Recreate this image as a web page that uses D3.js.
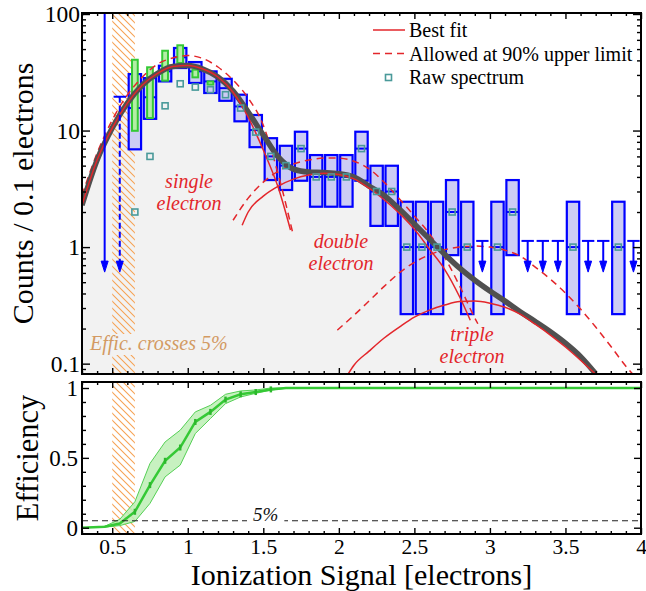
<!DOCTYPE html>
<html>
<head>
<meta charset="utf-8">
<script src="https://cdn.jsdelivr.net/npm/d3@7"></script>
<style>
  body { margin: 0; background: #fff; }
  svg { display: block; }
  svg text { font-family: 'Liberation Serif', 'DejaVu Serif', serif; }
</style>
</head>
<body>
<div id="chart"></div>
<script>
const width = 646;
const height = 591;

// efficiency-corrected spectrum, 0.1 e- bins (box = 68% interval, mid = value)
const boxX   = [0.65, 0.75, 0.85, 0.95, 1.05, 1.15, 1.25, 1.35, 1.45, 1.55, 1.65, 1.75, 1.85, 1.95, 2.05, 2.15, 2.25, 2.35, 2.45, 2.55, 2.65, 2.75, 2.85, 3.05, 3.15, 3.55, 3.85];
const boxMid = [15.6, 19.3, 32.2, 42.5, 32.2, 26.4, 23.1, 16.1, 10.1, 6, 5, 7, 4, 4, 4, 7, 3, 3, 1, 1, 1, 2, 1, 1, 2, 1, 1];
const boxLo  = [6.9, 12.6, 26.4, 34.4, 25.6, 21.0, 18.0, 12.0, 7.2, 3.76, 3.09, 3.71, 2.22, 2.22, 2.22, 3.71, 1.52, 1.52, 0.266, 0.266, 0.266, 0.853, 0.266, 0.266, 0.853, 0.266, 0.266];
const boxHi  = [30.5, 28.2, 36.0, 51.1, 38.7, 32.2, 27.8, 20.3, 13.6, 8.6, 7.4, 9.77, 6.16, 6.16, 6.16, 9.77, 4.99, 4.99, 2.45, 2.45, 2.45, 3.76, 2.45, 2.45, 3.76, 2.45, 2.45];
const rawSpectrum = [2, 6, 16.3, 25.2, 23.6, 22.4, 20.3, 15.6, 9.7, 6, 5, 7, 4, 4, 4, 7, 3, 3, 1, 1, 1, 2, 1, 1, 2, 1, 1];

// alternative correction near threshold
const greenX  = [0.65, 0.75, 0.85, 0.95, 1.05, 1.15];
const greenLo = [9.95, 12.8, 26.8, 38, 28.6, 24.8];
const greenHi = [40.5, 34.9, 48.4, 53.9, 33.3, 26.4];

// upper limits
const limitX  = [0.45, 2.95, 3.25, 3.35, 3.45, 3.65, 3.75, 3.95];
const limitHi = [102, 1.13, 1.13, 1.13, 1.13, 1.13, 1.13, 1.13];
const dashLimitX  = [0.55];
const dashLimitHi = [19.5];
const arrowTo = 0.61;

// fit curves
const fitX = [0.3, 0.4, 0.5, 0.6, 0.7, 0.8, 0.9, 1.0, 1.1, 1.2, 1.3, 1.4, 1.5, 1.6, 1.7, 1.8, 1.9, 2.0, 2.1, 2.2, 2.3, 2.4, 2.5, 2.6, 2.7, 2.8, 2.9, 3.0, 3.1, 3.2, 3.3, 3.4, 3.5, 3.6, 3.7];
const fitTotal = [2.29, 5.58, 10.5, 17.2, 24.6, 30.9, 35.4, 36.1, 33.7, 28.8, 21.8, 14.4, 9.15, 5.92, 4.67, 4.40, 4.36, 4.27, 3.99, 3.34, 2.78, 2.12, 1.58, 1.17, 0.87, 0.66, 0.52, 0.42, 0.344, 0.279, 0.23, 0.188, 0.15, 0.115, 0.082];

const singleX = [0.3, 0.4, 0.5, 0.6, 0.7, 0.8, 0.9, 1.0, 1.1, 1.2, 1.3, 1.4, 1.5, 1.6, 1.68];
const singleFit = [2.29, 5.58, 10.5, 17.2, 24.6, 30.9, 35.4, 36.1, 33.7, 28.8, 21.3, 13.0, 6.8, 3.21, 1.40];
const singleDashX = [0.3, 0.4, 0.5, 0.6, 0.7, 0.8, 0.9, 1.0, 1.1, 1.2, 1.3, 1.4, 1.5, 1.6, 1.7];
const singleDash = [2.79, 6.4, 12.3, 20.2, 28.8, 37.2, 41.9, 44, 41.5, 35.1, 27.1, 19.0, 11.1, 4.15, 1.24];

const doubleX = [1.36, 1.4, 1.5, 1.6, 1.7, 1.8, 1.9, 2.0, 2.1, 2.2, 2.3, 2.4, 2.5, 2.6, 2.7, 2.8, 2.87];
const doubleFit = [1.54, 2.0, 2.74, 3.34, 3.83, 4.15, 4.3, 4.2, 3.85, 3.2, 2.55, 1.95, 1.42, 0.96, 0.645, 0.373, 0.236];
const doubleDashX = [1.3, 1.4, 1.5, 1.6, 1.7, 1.8, 1.9, 2.0, 2.1, 2.2, 2.3, 2.4, 2.5, 2.6, 2.7, 2.8, 2.9, 2.92];
const doubleDash = [1.7, 2.63, 3.61, 4.49, 5.16, 5.58, 5.8, 5.8, 5.45, 4.7, 3.6, 2.6, 1.85, 1.3, 0.82, 0.463, 0.246, 0.22];

const tripleX = [2.06, 2.1, 2.2, 2.3, 2.4, 2.5, 2.6, 2.7, 2.8, 2.9, 3.0, 3.1, 3.2, 3.3, 3.4, 3.5, 3.6, 3.7];
const tripleFit = [0.081, 0.097, 0.128, 0.166, 0.206, 0.251, 0.288, 0.318, 0.341, 0.344, 0.330, 0.305, 0.266, 0.218, 0.176, 0.139, 0.107, 0.081];
const tripleDashX = [1.99, 2.1, 2.2, 2.3, 2.4, 2.5, 2.6, 2.7, 2.8, 2.9, 3.0, 3.1, 3.2, 3.3, 3.4, 3.5, 3.6, 3.7, 3.8, 3.9, 3.95];
const tripleDash = [0.194, 0.26, 0.345, 0.46, 0.6, 0.74, 0.86, 0.95, 1.0, 1.02, 1.0, 0.94, 0.837, 0.674, 0.531, 0.403, 0.294, 0.206, 0.141, 0.095, 0.08];

// efficiency
const effX  = [0.3, 0.45, 0.55, 0.65, 0.75, 0.85, 0.95, 1.05, 1.15, 1.25, 1.35, 1.45, 1.55, 1.65, 4.0];
const eff   = [0.0, 0.007, 0.03, 0.114, 0.305, 0.479, 0.574, 0.757, 0.829, 0.917, 0.955, 0.971, 0.99, 1.0, 1.0];
const effLo = [0.0, 0.004, 0.015, 0.045, 0.174, 0.364, 0.448, 0.674, 0.781, 0.888, 0.936, 0.962, 0.985, 0.998, 1.0];
const effHi = [0.0, 0.01, 0.06, 0.186, 0.46, 0.614, 0.698, 0.829, 0.876, 0.955, 0.979, 0.986, 1.0, 1.0, 1.0];
const effMarkX = [0.65, 0.75, 0.85, 0.95, 1.05, 1.15, 1.25, 1.35, 1.45, 1.55];
const threshold = 0.05;
const band = [0.5, 0.65];

const xTickLabels = [0.5, 1, 1.5, 2, 2.5, 3, 3.5, 4];
const yTickLabels = [0.1, 1, 10, 100];
const effTickLabels = [0, 0.5, 1];

const red = '#e3262b';
const blue = '#0000ff';
const green = '#35c935';
const teal = '#4a9a9a';

const x = d3.scaleLinear().domain([0.3, 4.0]).range([82, 641]);
const y = d3.scaleLog().domain([0.0815, 102]).range([374, 13]);
const yEff = d3.scaleLinear().domain([-0.045, 1.043]).range([534, 382]);

const [xL, xR] = x.range();
const [yB, yT] = y.range();
const [eB, eT] = yEff.range();

const pairs = (xs, vs) => xs.map((d, i) => [d, vs[i]]);

const svg = d3.select('#chart')
  .append('svg')
  .attr('width', width)
  .attr('height', height)
  .attr('viewBox', [0, 0, width, height]);

svg.append('rect').attr('width', width).attr('height', height).attr('fill', '#fff');

const defs = svg.append('defs');
defs.append('clipPath').attr('id', 'clipTop')
  .append('rect').attr('x', xL).attr('y', yT).attr('width', xR - xL).attr('height', yB - yT);
defs.append('clipPath').attr('id', 'clipBot')
  .append('rect').attr('x', xL).attr('y', eT).attr('width', xR - xL).attr('height', eB - eT);
defs.append('pattern')
  .attr('id', 'hatch')
  .attr('patternUnits', 'userSpaceOnUse')
  .attr('width', 7).attr('height', 7)
  .append('path')
  .attr('d', 'M-1,-1L8,8M-1,6L1,8M6,-1L8,1')
  .attr('stroke', '#f6a355')
  .attr('stroke-width', 1.1);

// ---------- top panel ----------
const upper = svg.append('g').attr('clip-path', 'url(#clipTop)');

upper.append('path')
  .datum(pairs(fitX, fitTotal))
  .attr('fill', '#f2f2f2')
  .attr('d', d3.area().x(d => x(d[0])).y0(yB).y1(d => y(d[1])).curve(d3.curveMonotoneX));

upper.append('rect')
  .attr('x', x(band[0])).attr('width', x(band[1]) - x(band[0]))
  .attr('y', yT).attr('height', yB - yT)
  .attr('fill', 'url(#hatch)');

const effic = upper.append('text')
  .attr('x', 90).attr('y', 350)
  .attr('font-style', 'italic').attr('font-size', 20)
  .attr('fill', '#d39a62')
  .text('Effic. crosses 5%');
const eb = effic.node().getBBox();
upper.insert('rect', 'text')
  .attr('x', eb.x - 1).attr('y', eb.y + 2).attr('width', eb.width + 2).attr('height', eb.height - 2)
  .attr('fill', '#f2f2f2');

const hw = 0.041;
const boxes = pairs(boxX, boxMid).map((d, i) => ({ x: d[0], mid: d[1], lo: boxLo[i], hi: boxHi[i], raw: rawSpectrum[i] }));

upper.append('g')
  .selectAll('rect')
  .data(boxes)
  .join('rect')
  .attr('x', d => x(d.x - hw))
  .attr('width', x(hw * 2) - x(0))
  .attr('y', d => y(d.hi))
  .attr('height', d => y(d.lo) - y(d.hi))
  .attr('fill', '#ccccf4')
  .attr('stroke', blue)
  .attr('stroke-width', 2.2);

upper.append('g')
  .selectAll('line')
  .data(boxes)
  .join('line')
  .attr('x1', d => x(d.x - hw)).attr('x2', d => x(d.x + hw))
  .attr('y1', d => y(d.mid)).attr('y2', d => y(d.mid))
  .attr('stroke', blue).attr('stroke-width', 2);

const ghw = 0.019;
upper.append('g')
  .selectAll('rect')
  .data(pairs(greenX, greenHi).map((d, i) => ({ x: d[0], hi: d[1], lo: greenLo[i] })))
  .join('rect')
  .attr('x', d => x(d.x - ghw))
  .attr('width', x(ghw * 2) - x(0))
  .attr('y', d => y(d.hi))
  .attr('height', d => y(d.lo) - y(d.hi))
  .attr('fill', '#b4eea6')
  .attr('stroke', green)
  .attr('stroke-width', 2);

const line = d3.line().x(d => x(d[0])).y(d => y(d[1])).curve(d3.curveMonotoneX);

[[singleDashX, singleDash], [doubleDashX, doubleDash], [tripleDashX, tripleDash]].forEach(([xs, vs]) => {
  upper.append('path').datum(pairs(xs, vs))
    .attr('fill', 'none').attr('stroke', red).attr('stroke-width', 1.5)
    .attr('stroke-dasharray', '7,5')
    .attr('d', line);
});

upper.append('path').datum(pairs(fitX, fitTotal))
  .attr('fill', 'none').attr('stroke', '#505050').attr('stroke-width', 5.5)
  .attr('d', line);

[[singleX, singleFit], [doubleX, doubleFit], [tripleX, tripleFit]].forEach(([xs, vs]) => {
  upper.append('path').datum(pairs(xs, vs))
    .attr('fill', 'none').attr('stroke', red).attr('stroke-width', 1.5)
    .attr('d', line);
});

upper.append('g')
  .selectAll('rect')
  .data(boxes)
  .join('rect')
  .attr('x', d => x(d.x) - 3).attr('y', d => y(d.raw) - 3)
  .attr('width', 6).attr('height', 6)
  .attr('fill', 'none').attr('stroke', teal).attr('stroke-width', 1.6);

// upper-limit arrows
function arrows(xs, his, dash) {
  const g = upper.append('g').attr('stroke', blue).attr('fill', blue);
  xs.forEach((xv, i) => {
    const cx = x(xv), y0 = y(his[i]), y1 = y(arrowTo);
    g.append('line').attr('x1', cx).attr('x2', cx).attr('y1', y0).attr('y2', y1 - 8)
      .attr('stroke-width', 2).attr('stroke-dasharray', dash);
    g.append('line').attr('x1', x(xv - hw)).attr('x2', x(xv + hw)).attr('y1', y0).attr('y2', y0)
      .attr('stroke-width', 2);
    g.append('path').attr('d', `M${cx - 3.5},${y1 - 11}L${cx + 3.5},${y1 - 11}L${cx},${y1}Z`)
      .attr('stroke-width', 1);
  });
}
arrows(limitX, limitHi, null);
arrows(dashLimitX, dashLimitHi, '6,3');

// component labels
const labels = [
  { t: ['single', 'electron'], x: 189, y: 188 },
  { t: ['double', 'electron'], x: 341, y: 248 },
  { t: ['triple', 'electron'], x: 472, y: 341 }
];
labels.forEach(l => {
  const tx = svg.append('text')
    .attr('font-style', 'italic').attr('font-size', 20)
    .attr('fill', red).attr('text-anchor', 'middle');
  l.t.forEach((s, i) => tx.append('tspan').attr('x', l.x).attr('y', l.y + i * 22).text(s));
});

// legend
const leg = svg.append('g').attr('font-size', 20);
leg.append('line').attr('x1', 373).attr('x2', 405).attr('y1', 30).attr('y2', 30)
  .attr('stroke', red).attr('stroke-width', 1.5);
leg.append('line').attr('x1', 373).attr('x2', 405).attr('y1', 53.5).attr('y2', 53.5)
  .attr('stroke', red).attr('stroke-width', 1.5).attr('stroke-dasharray', '7,5');
leg.append('rect').attr('x', 385.5).attr('y', 74.5).attr('width', 6).attr('height', 6)
  .attr('fill', 'none').attr('stroke', teal).attr('stroke-width', 1.6);
leg.append('text').attr('x', 409).attr('y', 36.5).text('Best fit');
leg.append('text').attr('x', 409).attr('y', 60.5).text('Allowed at 90% upper limit');
leg.append('text').attr('x', 409).attr('y', 83.5).text('Raw spectrum');

// ---------- bottom panel ----------
const lower = svg.append('g').attr('clip-path', 'url(#clipBot)');

lower.append('rect')
  .attr('x', x(band[0])).attr('width', x(band[1]) - x(band[0]))
  .attr('y', eT).attr('height', eB - eT)
  .attr('fill', 'url(#hatch)');

const effPts = effX.map((d, i) => ({ x: d, v: eff[i], lo: effLo[i], hi: effHi[i] }));
const lin = d3.curveLinear;

lower.append('path').datum(effPts)
  .attr('fill', '#bdeeb5').attr('fill-opacity', 0.85)
  .attr('d', d3.area().x(d => x(d.x)).y0(d => yEff(d.lo)).y1(d => yEff(d.hi)).curve(lin));
lower.append('path').datum(effPts)
  .attr('fill', 'none').attr('stroke', '#55d055').attr('stroke-width', 1)
  .attr('d', d3.line().x(d => x(d.x)).y(d => yEff(d.lo)).curve(lin));
lower.append('path').datum(effPts)
  .attr('fill', 'none').attr('stroke', '#55d055').attr('stroke-width', 1)
  .attr('d', d3.line().x(d => x(d.x)).y(d => yEff(d.hi)).curve(lin));
lower.append('path').datum(effPts)
  .attr('fill', 'none').attr('stroke', green).attr('stroke-width', 2.5)
  .attr('d', d3.line().x(d => x(d.x)).y(d => yEff(d.v)).curve(lin));

lower.append('g')
  .selectAll('line')
  .data(effPts.filter(d => effMarkX.includes(d.x)))
  .join('line')
  .attr('x1', d => x(d.x)).attr('x2', d => x(d.x))
  .attr('y1', d => yEff(d.v) - 3).attr('y2', d => yEff(d.v) + 3)
  .attr('stroke', '#2cb82c').attr('stroke-width', 2.5);

lower.append('line')
  .attr('x1', xL).attr('x2', xR)
  .attr('y1', yEff(threshold)).attr('y2', yEff(threshold))
  .attr('stroke', '#222').attr('stroke-width', 1.1).attr('stroke-dasharray', '6,4');

const pct = lower.append('text')
  .attr('x', 253).attr('y', 521)
  .attr('font-style', 'italic').attr('font-size', 19)
  .attr('fill', '#111')
  .text('5%');
const pb = pct.node().getBBox();
lower.insert('rect', 'text')
  .attr('x', pb.x - 6).attr('y', pb.y + 4).attr('width', pb.width + 12).attr('height', pb.height - 6)
  .attr('fill', '#fff');

// ---------- axes ----------
function axis(gen, tx, values, size, fmt, pad, fs) {
  return svg.append('g')
    .attr('transform', tx)
    .call(gen.tickValues(values).tickSize(size).tickPadding(pad || 3).tickFormat(fmt || ''))
    .call(g => g.select('.domain').remove())
    .call(g => g.selectAll('.tick line').attr('stroke-width', 1.4))
    .attr('font-size', fs || 22);
}

const fmt = d3.format('');
const xMinor = d3.range(3, 41).map(d => d / 10).filter(d => !xTickLabels.includes(d));
const yMinor = y.ticks().filter(d => !yTickLabels.includes(d));
const effMinor = d3.range(0, 11).map(d => d / 10).filter(d => !effTickLabels.includes(d));

// top panel
axis(d3.axisBottom(x), `translate(0,${yB})`, xTickLabels, -6);
axis(d3.axisBottom(x), `translate(0,${yB})`, xMinor, -3);
axis(d3.axisTop(x), `translate(0,${yT})`, xTickLabels, -6);
axis(d3.axisTop(x), `translate(0,${yT})`, xMinor, -3);
axis(d3.axisLeft(y), `translate(${xL},0)`, yTickLabels, -8, fmt, 2, 23.5);
axis(d3.axisLeft(y), `translate(${xL},0)`, yMinor, -4);
axis(d3.axisRight(y), `translate(${xR},0)`, yTickLabels, -8);
axis(d3.axisRight(y), `translate(${xR},0)`, yMinor, -4);

// bottom panel
axis(d3.axisBottom(x), `translate(0,${eB})`, xTickLabels, -6, fmt, 5, 21.5);
axis(d3.axisBottom(x), `translate(0,${eB})`, xMinor, -3);
axis(d3.axisTop(x), `translate(0,${eT})`, xTickLabels, -6);
axis(d3.axisTop(x), `translate(0,${eT})`, xMinor, -3);
axis(d3.axisLeft(yEff), `translate(${xL},0)`, effTickLabels, -7, fmt, 4, 23);
axis(d3.axisLeft(yEff), `translate(${xL},0)`, effMinor, -4);
axis(d3.axisRight(yEff), `translate(${xR},0)`, effTickLabels, -7);
axis(d3.axisRight(yEff), `translate(${xR},0)`, effMinor, -4);

svg.selectAll('.tick text').attr('fill', '#000');

// frames
svg.append('rect').attr('x', xL).attr('y', yT).attr('width', xR - xL).attr('height', yB - yT)
  .attr('fill', 'none').attr('stroke', '#000').attr('stroke-width', 2);
svg.append('rect').attr('x', xL).attr('y', eT).attr('width', xR - xL).attr('height', eB - eT)
  .attr('fill', 'none').attr('stroke', '#000').attr('stroke-width', 2);

// axis titles
svg.append('text')
  .attr('transform', `translate(33,${(yT + yB) / 2}) rotate(-90)`)
  .attr('text-anchor', 'middle')
  .attr('font-size', 30)
  .text('Counts / 0.1 electrons');
svg.append('text')
  .attr('transform', `translate(38,${(eT + eB) / 2}) rotate(-90)`)
  .attr('text-anchor', 'middle')
  .attr('font-size', 30.5)
  .text('Efficiency');
svg.append('text')
  .attr('x', (xL + xR) / 2).attr('y', 585)
  .attr('text-anchor', 'middle')
  .attr('font-size', 30)
  .text('Ionization Signal [electrons]');
</script>
</body>
</html>
